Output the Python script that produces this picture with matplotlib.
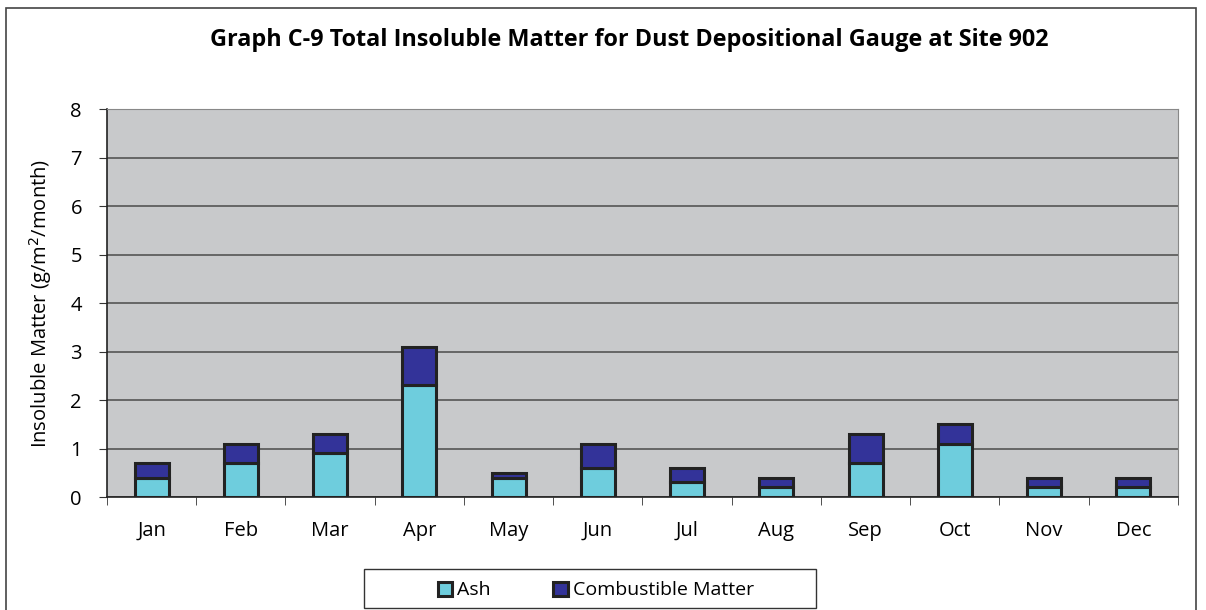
import matplotlib.pyplot as plt
import matplotlib.patches as mpatches
import numpy as np

months = ['Jan', 'Feb', 'Mar', 'Apr', 'May', 'Jun', 'Jul', 'Aug', 'Sep', 'Oct', 'Nov', 'Dec']
ash = [0.4, 0.7, 0.9, 2.3, 0.4, 0.6, 0.3, 0.2, 0.7, 1.1, 0.2, 0.2]
combustible = [0.3, 0.4, 0.4, 0.8, 0.1, 0.5, 0.3, 0.2, 0.6, 0.4, 0.2, 0.2]

plt.rcParams['font.family'] = ['Open Sans', 'DejaVu Sans']

fig = plt.figure(figsize=(12.06, 6.10), dpi=100)
ax = fig.add_axes([0.0887, 0.1852, 0.888, 0.6361])

# outer chart frame
fig.patches.append(mpatches.Rectangle((0.005, -0.01), 0.987, 0.997, transform=fig.transFigure,
                                      fill=False, edgecolor='#444444', lw=1.2))
# legend box
fig.patches.append(mpatches.Rectangle((0.3018, 0.0033), 0.3748, 0.064, transform=fig.transFigure,
                                      fill=False, edgecolor='#333333', lw=1.0))

x = np.arange(len(months))
w = 0.38
ax.bar(x, ash, w, color='#6ecddd', edgecolor='#222222', lw=2.2, label='Ash', zorder=3)
ax.bar(x, combustible, w, bottom=ash, color='#333399', edgecolor='#222222', lw=2.2,
       label='Combustible Matter', zorder=3)

ax.set_facecolor('#c8c9cb')
ax.set_xlim(-0.5, 11.5)
ax.set_ylim(0, 8)
ax.set_yticks(range(0, 9))
ax.yaxis.grid(True, color='#555555', lw=1.2, zorder=1)
ax.set_xticks(x)
ax.set_xticklabels(months)
ax.set_xticks(np.arange(-0.5, 12, 1), minor=True)
ax.tick_params(axis='x', which='major', length=0, pad=17, labelsize=14.5)
ax.tick_params(axis='x', which='minor', length=6, direction='out', color='#333333')
ax.tick_params(axis='y', length=6, direction='out', labelsize=14.5, pad=12, color='#333333')

for side in ['top', 'right']:
    ax.spines[side].set_color('#888888')
for side in ['left', 'bottom']:
    ax.spines[side].set_color('#222222')
    ax.spines[side].set_linewidth(1.2)

ax.set_ylabel('Insoluble Matter (g/m$^2$/month)', fontsize=14.5, labelpad=12)
fig.text(0.522, 0.935, 'Graph C-9 Total Insoluble Matter for Dust Depositional Gauge at Site 902',
         ha='center', va='center', fontsize=16.8, fontweight='bold')

fig.legend(loc='center', bbox_to_anchor=(0.494, 0.032), ncol=2, fontsize=14,
           frameon=False, handlelength=0.75, handleheight=0.75, columnspacing=3.2,
           handletextpad=0.25)

fig.savefig('out.png', dpi=100)
